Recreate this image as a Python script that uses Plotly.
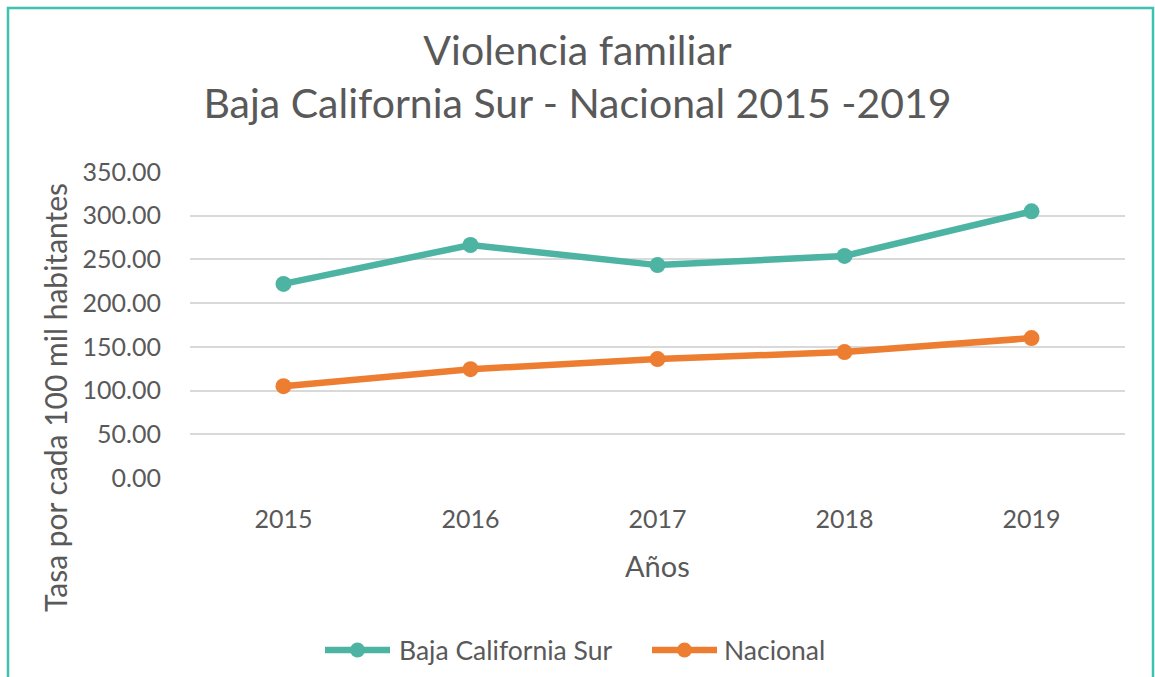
import plotly.graph_objects as go

years = ["2015", "2016", "2017", "2018", "2019"]
bcs = [222.0, 266.5, 243.5, 254.0, 305.0]
nacional = [105.0, 124.5, 136.0, 144.0, 160.0]
y_ticks = [0, 50, 100, 150, 200, 250, 300, 350]
series_names = ["Baja California Sur", "Nacional"]
series_colors = ["#4DB3A2", "#ED7D31"]

TEXT = "#595959"
FONT = "Lato"

W, H = 1155, 677
L, R, T, B = 190, 30, 172, 199
pw, ph = W - L - R, H - T - B

def px_x(px):
    return (px - L) / pw

def px_y(py):
    return (H - B - py) / ph

fig = go.Figure()
for name, vals, col in zip(series_names, [bcs, nacional], series_colors):
    fig.add_trace(go.Scatter(
        x=years, y=vals, name=name, mode="lines+markers",
        line=dict(color=col, width=6.5), marker=dict(size=16, color=col),
        showlegend=False,
    ))

fig.update_layout(
    width=W, height=H,
    margin=dict(l=L, r=R, t=T, b=B),
    paper_bgcolor="white", plot_bgcolor="white",
    font=dict(family=FONT, color=TEXT),
    title=dict(
        text="Violencia familiar<br>Baja California Sur - Nacional 2015 -2019",
        x=0.5, xanchor="center", y=1 - 65 / H, yanchor="middle",
        font=dict(size=41, color=TEXT, family=FONT),
    ),
    xaxis=dict(
        type="category", range=[-0.5, 4.5], showgrid=False, zeroline=False,
        showline=False, ticks="", tickfont=dict(size=25, color=TEXT),
        ticklabelstandoff=24,
    ),
    yaxis=dict(
        range=[0, 350], tickvals=y_ticks,
        ticktext=[f"{v:.2f}" for v in y_ticks],
        showgrid=True, gridcolor="#D9D9D9", gridwidth=1.5,
        zeroline=False, showline=False, ticks="", ticklabelstandoff=28,
        tickfont=dict(size=25, color=TEXT),
    ),
    showlegend=False,
)

fig.add_annotation(
    text="Años", xref="paper", yref="paper", x=0.5, y=px_y(565),
    xanchor="center", yanchor="middle", showarrow=False,
    font=dict(size=29, color=TEXT, family=FONT),
)
fig.add_annotation(
    text="Tasa por cada 100 mil habitantes", textangle=-90,
    xref="paper", yref="paper", x=px_x(55), y=px_y(398),
    xanchor="center", yanchor="middle", showarrow=False,
    font=dict(size=30, color=TEXT, family=FONT),
)

# legend drawn below the axis title: line sample, dot, label
legend_items = [(325, 390, 397), (652, 717, 722)]
ly = px_y(650)
for (lx0, lx1, tx), name, col in zip(legend_items, series_names, series_colors):
    fig.add_shape(type="line", xref="paper", yref="paper",
                  x0=px_x(lx0), x1=px_x(lx1), y0=ly, y1=ly,
                  line=dict(color=col, width=6.5))
    cx = (lx0 + lx1) / 2
    fig.add_shape(type="circle", xref="paper", yref="paper",
                  x0=px_x(cx - 7.5), x1=px_x(cx + 7.5),
                  y0=px_y(650 + 7.5), y1=px_y(650 - 7.5),
                  line=dict(color=col, width=0), fillcolor=col)
    fig.add_annotation(text=name, xref="paper", yref="paper",
                       x=px_x(tx), y=ly, xanchor="left", yanchor="middle",
                       showarrow=False, font=dict(size=26.5, color=TEXT, family=FONT))

# outer chart frame
fig.add_shape(
    type="rect", xref="paper", yref="paper",
    x0=px_x(8), x1=px_x(1153), y0=px_y(700), y1=px_y(8),
    line=dict(color="#3EC1B0", width=2.5), fillcolor="rgba(0,0,0,0)", layer="below",
)

fig.write_html("out.html")
